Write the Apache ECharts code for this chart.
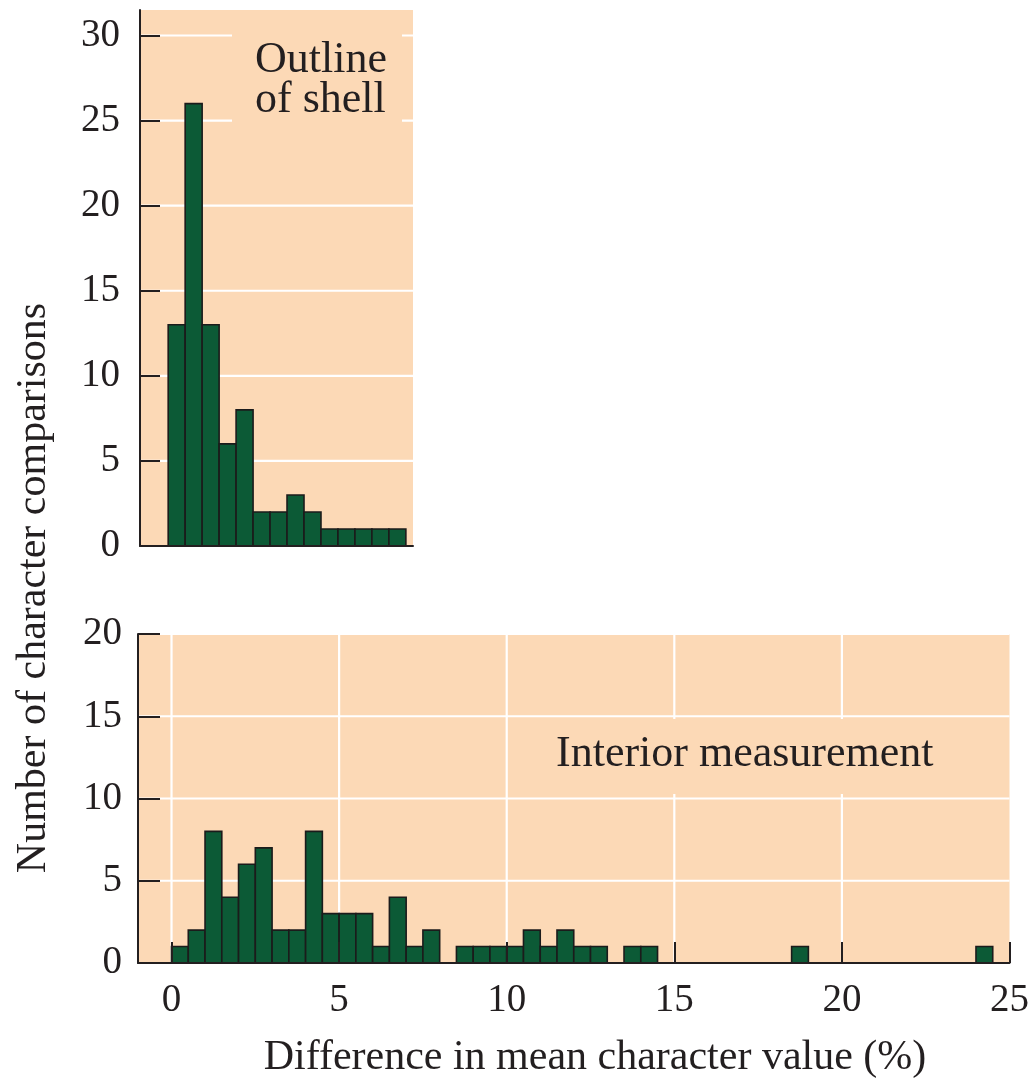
<!DOCTYPE html>
<html>
<head>
<meta charset="utf-8">
<title>Difference in mean character value</title>
<script src="https://cdn.jsdelivr.net/npm/echarts@6/dist/echarts.min.js"></script>
<style>
  html, body { margin: 0; padding: 0; background: #ffffff; }
  #chart { width: 1032px; height: 1081px; }
</style>
</head>
<body>
<div id="chart"></div>
<script>
// Histogram bins are 0.5 percentage points wide; each array holds bin left edges and counts.
const BIN_WIDTH = 0.5;

// Upper panel: outline of shell
const shellBinStarts = [0, 0.5, 1, 1.5, 2, 2.5, 3, 3.5, 4, 4.5, 5, 5.5, 6, 6.5];
const shellCounts    = [13, 26, 13, 6, 8, 2, 2, 3, 2, 1, 1, 1, 1, 1];

// Lower panel: interior measurement
const interiorBinStarts = [0, 0.5, 1, 1.5, 2, 2.5, 3, 3.5, 4, 4.5, 5, 5.5, 6, 6.5, 7, 7.5,
                           8.5, 9, 9.5, 10, 10.5, 11, 11.5, 12, 12.5, 13.5, 14, 18.5, 24];
const interiorCounts    = [1, 2, 8, 4, 6, 7, 2, 2, 8, 3, 3, 3, 1, 4, 1, 2,
                           1, 1, 1, 1, 2, 1, 2, 1, 1, 1, 1, 1, 1];

// Tick values
const shellYTicks    = [0, 5, 10, 15, 20, 25, 30];
const interiorYTicks = [0, 5, 10, 15, 20];
const interiorXTicks = [0, 5, 10, 15, 20, 25];

const PANEL_BG = '#fcd9b6';
const BAR_FILL = '#0c5a36';
const INK = '#231f20';
const SERIF = '"Liberation Serif", "Times New Roman", serif';

const chart = echarts.init(document.getElementById('chart'), null, { renderer: 'canvas' });

function histogramData(starts, counts) {
  return starts.map((s, i) => [s, counts[i]]);
}

function renderBin(params, api) {
  const x0 = api.value(0);
  const n = api.value(1);
  const tl = api.coord([x0, n]);
  const br = api.coord([x0 + BIN_WIDTH, 0]);
  return {
    type: 'rect',
    shape: { x: tl[0], y: tl[1], width: br[0] - tl[0], height: br[1] - tl[1] },
    style: { fill: BAR_FILL, stroke: '#1b1b1b', lineWidth: 1.6 }
  };
}

// White grid lines drawn underneath the bars; first value 0 = horizontal line at a y value,
// 1 = vertical line at an x value.
function renderGridLine(params, api) {
  const horizontal = api.value(0) === 0;
  const v = api.value(1);
  const cs = params.coordSys;
  let p0, p1;
  if (horizontal) {
    const y = api.coord([0, v])[1];
    p0 = [cs.x, y]; p1 = [cs.x + cs.width, y];
  } else {
    const x = api.coord([v, 0])[0];
    p0 = [x, cs.y]; p1 = [x, cs.y + cs.height];
  }
  return {
    type: 'line',
    shape: { x1: p0[0], y1: p0[1], x2: p1[0], y2: p1[1] },
    style: { stroke: '#ffffff', lineWidth: 2.2 }
  };
}

const axisLineStyle = { color: INK, width: 2 };
const tickLabel = { color: INK, fontFamily: SERIF, fontSize: 39 };

const option = {
  animation: false,
  backgroundColor: '#ffffff',
  grid: [
    { left: 140, top: 10, width: 273, height: 536, show: true, backgroundColor: PANEL_BG, borderWidth: 0 },
    { left: 138, top: 634, width: 873, height: 329, show: true, backgroundColor: PANEL_BG, borderWidth: 0 }
  ],
  xAxis: [
    {
      gridIndex: 0, type: 'value', min: -0.83, max: 7.21, z: 10,
      axisLine: { show: true, onZero: false, lineStyle: axisLineStyle },
      axisTick: { show: false }, axisLabel: { show: false }, splitLine: { show: false }
    },
    {
      gridIndex: 1, type: 'value', min: -1, max: 25, z: 10,
      axisLine: { show: true, onZero: false, lineStyle: axisLineStyle },
      axisTick: { show: true, inside: true, length: 21, lineStyle: axisLineStyle, customValues: interiorXTicks },
      axisLabel: Object.assign({ margin: 18, customValues: interiorXTicks }, tickLabel),
      splitLine: { show: false }
    }
  ],
  yAxis: [
    {
      gridIndex: 0, type: 'value', min: 0, max: 31.5, z: 10,
      axisLine: { show: true, onZero: false, lineStyle: axisLineStyle },
      axisTick: { show: true, inside: true, length: 20, lineStyle: axisLineStyle, customValues: shellYTicks },
      axisLabel: Object.assign({ margin: 20, customValues: shellYTicks }, tickLabel),
      splitLine: { show: false }
    },
    {
      gridIndex: 1, type: 'value', min: 0, max: 20, interval: 5, z: 10,
      axisLine: { show: true, onZero: false, lineStyle: axisLineStyle },
      axisTick: { show: true, inside: true, length: 22, lineStyle: axisLineStyle },
      axisLabel: Object.assign({ margin: 16 }, tickLabel),
      splitLine: { show: false }
    }
  ],
  series: [
    {
      type: 'custom', name: 'shell grid', xAxisIndex: 0, yAxisIndex: 0, z: 1, silent: true,
      renderItem: renderGridLine,
      data: shellYTicks.filter(t => t > 0).map(t => [0, t])
    },
    {
      type: 'custom', name: 'interior grid', xAxisIndex: 1, yAxisIndex: 1, z: 1, silent: true,
      renderItem: renderGridLine,
      data: interiorYTicks.filter(t => t > 0).map(t => [0, t])
        .concat(interiorXTicks.filter(t => t < 25).map(t => [1, t]))
    },
    {
      type: 'custom', name: 'Outline of shell', xAxisIndex: 0, yAxisIndex: 0, z: 5,
      renderItem: renderBin,
      encode: { x: 0, y: 1 },
      data: histogramData(shellBinStarts, shellCounts)
    },
    {
      type: 'custom', name: 'Interior measurement', xAxisIndex: 1, yAxisIndex: 1, z: 5,
      renderItem: renderBin,
      encode: { x: 0, y: 1 },
      data: histogramData(interiorBinStarts, interiorCounts)
    }
  ],
  graphic: [
    // panel captions, set on a panel-coloured box that interrupts the grid lines
    { type: 'rect', z: 3, shape: { x: 232, y: 24, width: 170, height: 106 }, style: { fill: PANEL_BG } },
    { type: 'text', z: 4, x: 255, y: 60,
      style: { text: 'Outline', font: '44px ' + SERIF, fill: INK, align: 'left', verticalAlign: 'middle' } },
    { type: 'text', z: 4, x: 255, y: 100,
      style: { text: 'of shell', font: '44px ' + SERIF, fill: INK, align: 'left', verticalAlign: 'middle' } },
    { type: 'rect', z: 3, shape: { x: 545, y: 719, width: 405, height: 75 }, style: { fill: PANEL_BG } },
    { type: 'text', z: 4, x: 556, y: 754,
      style: { text: 'Interior measurement', font: '44px ' + SERIF, fill: INK, align: 'left', verticalAlign: 'middle' } },
    // axis titles
    { type: 'text', z: 4, x: 595, y: 1058,
      style: { text: 'Difference in mean character value (%)', font: '42px ' + SERIF, fill: INK,
               align: 'center', verticalAlign: 'middle' } },
    { type: 'text', z: 4, x: 34, y: 588, rotation: Math.PI / 2,
      style: { text: 'Number of character comparisons', font: '42px ' + SERIF, fill: INK,
               align: 'center', verticalAlign: 'middle' } }
  ]
};

chart.setOption(option);
</script>
</body>
</html>
